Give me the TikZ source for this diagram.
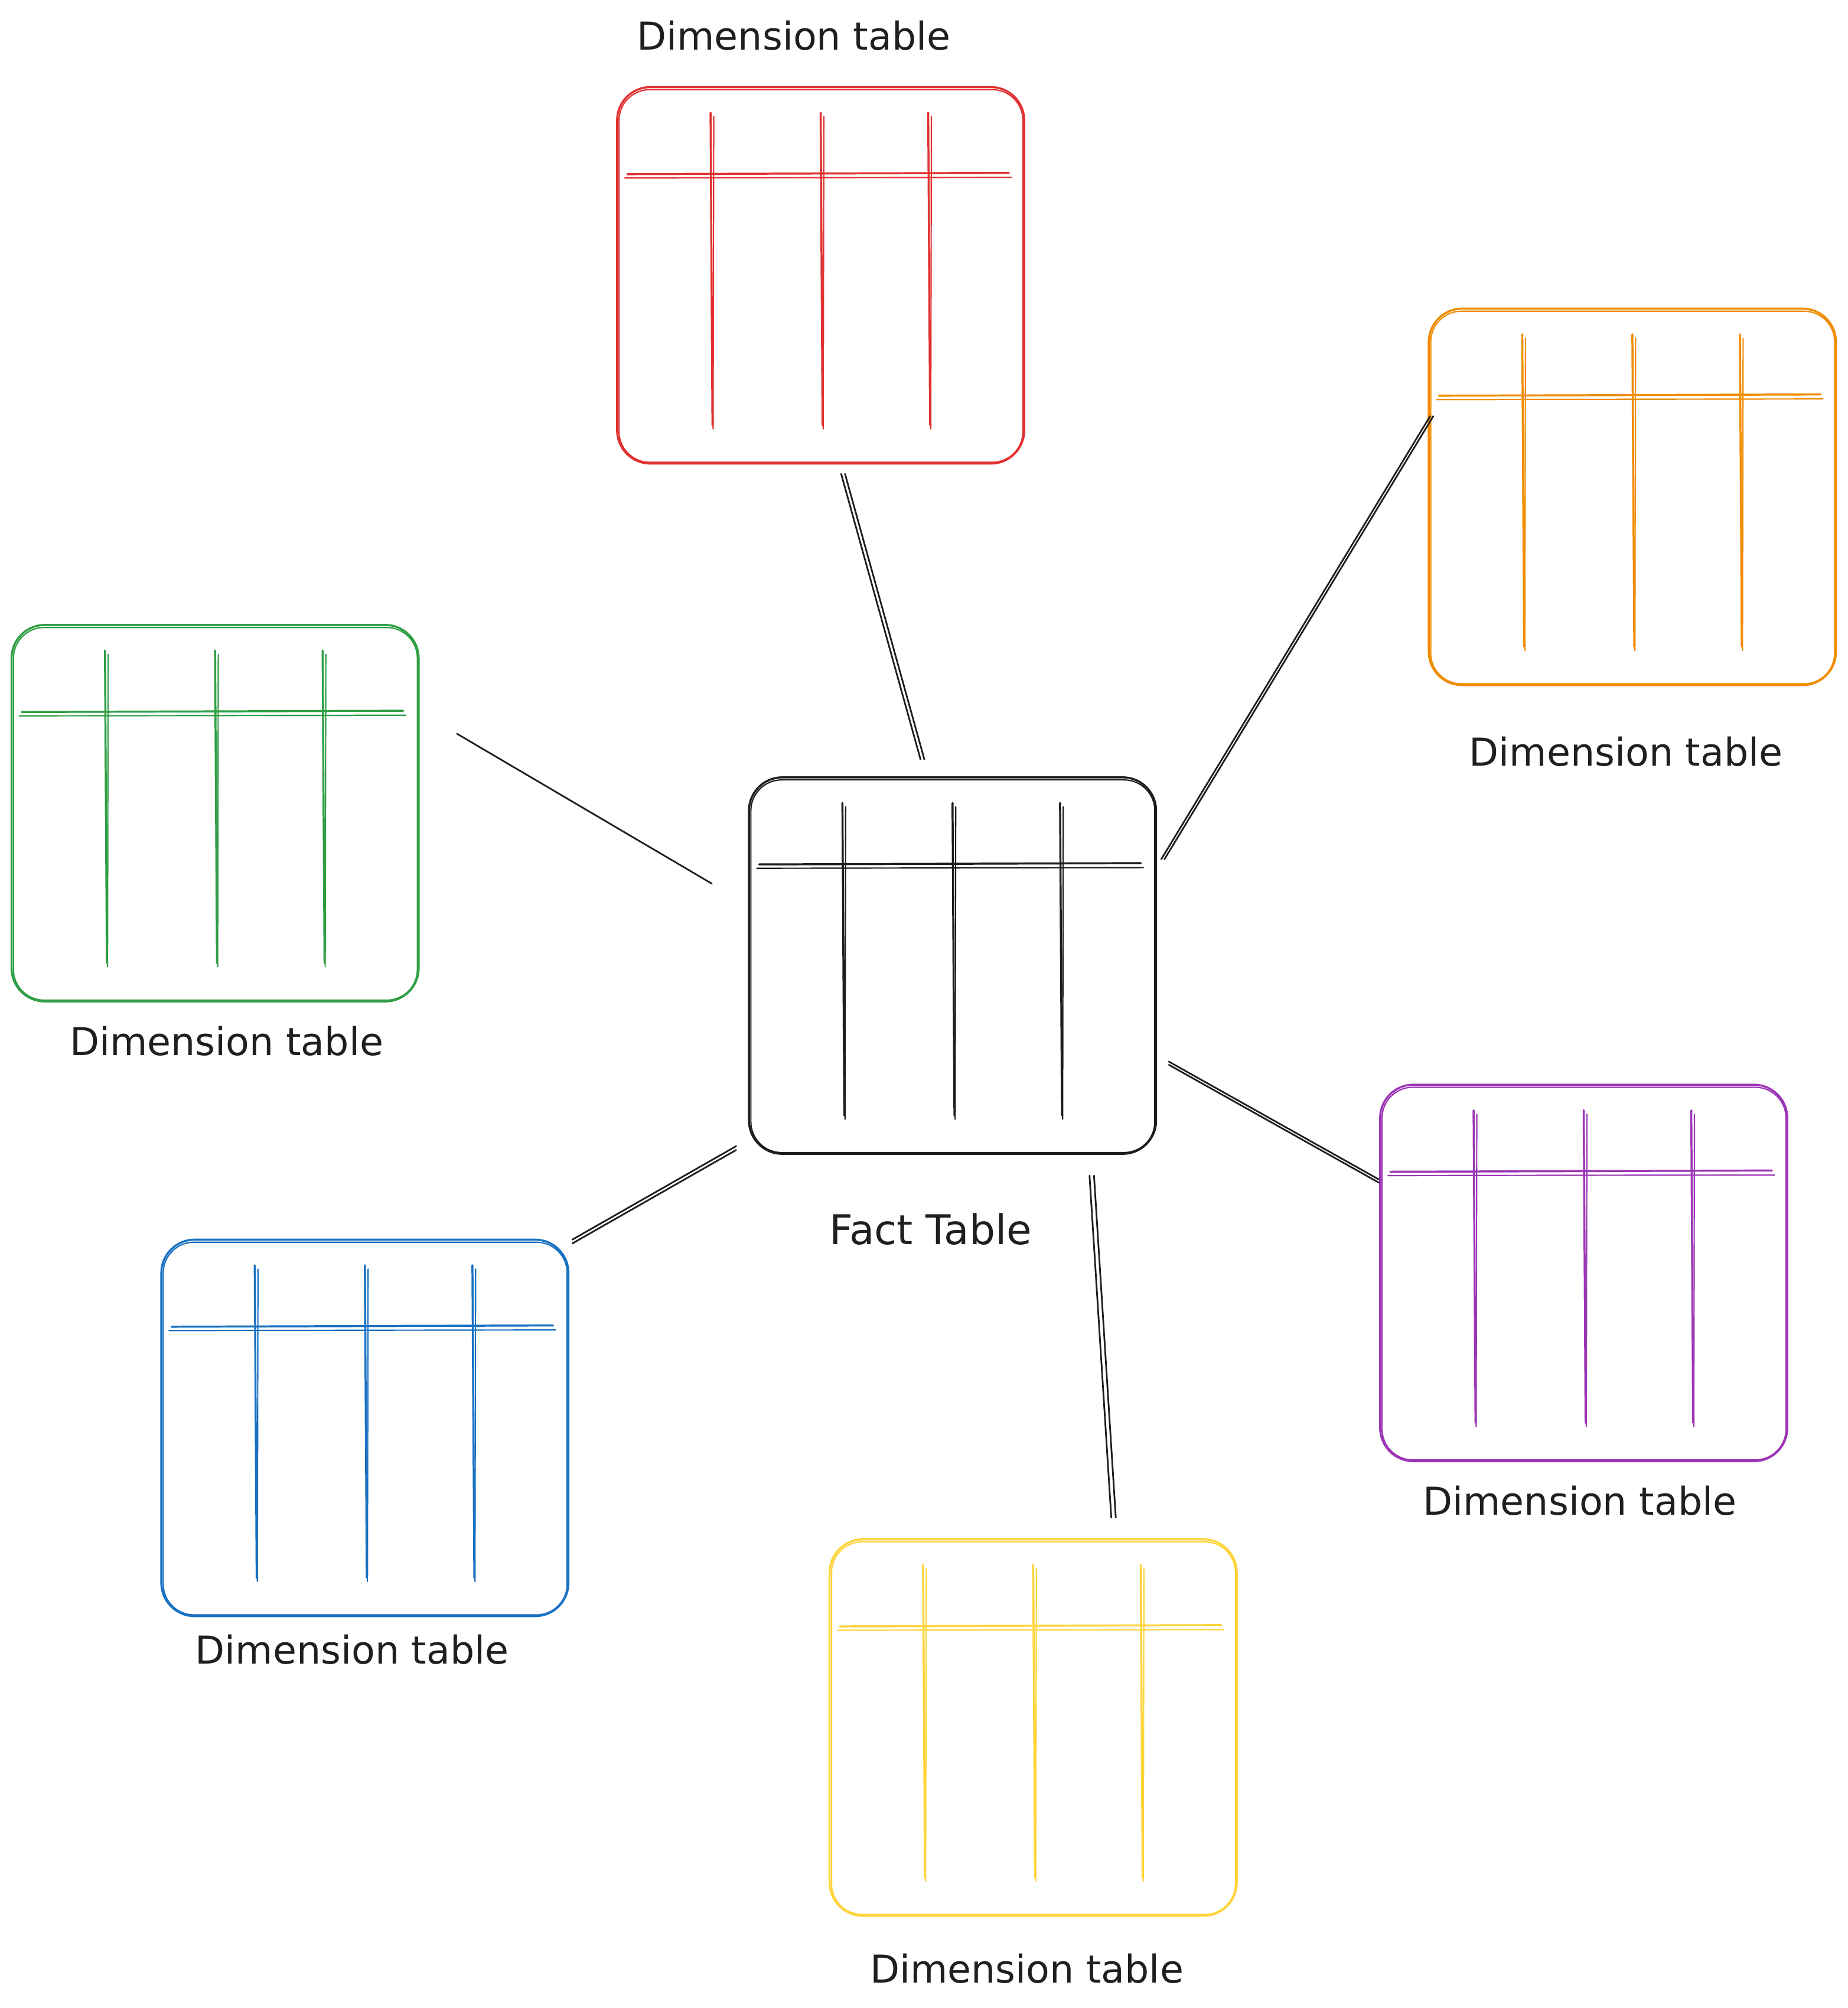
\documentclass[tikz,border=0pt]{standalone}
\usepackage{fontspec}
\setmainfont{DejaVu Sans}
\begin{document}
\begin{tikzpicture}[x=1pt,y=-1pt,
  ink/.style={line width=1.6pt, line cap=round, line join=round},
  thin/.style={line width=1.0pt, line cap=round},
  tbox/.style={ink, rounded corners=26pt, minimum width=318pt, minimum height=294pt, inner sep=0pt},
  lbl/.style={text=black!88, font=\fontsize{30}{36}\selectfont, inner sep=0pt},
  conn/.style={line width=1.3pt, black!88, line cap=round}]
\definecolor{cred}{HTML}{E03131}
\definecolor{corange}{HTML}{F08C00}
\definecolor{cgreen}{HTML}{2F9E44}
\definecolor{cpurple}{HTML}{9C36B5}
\definecolor{cblue}{HTML}{1971C2}
\definecolor{cyellow}{HTML}{FFD43B}
\definecolor{cblack}{HTML}{1E1E1E}
\fill[white] (0,0) rectangle (1443,1568);
\useasboundingbox (0,0) rectangle (1443,1568);
\newcommand\dimtab[4]{% name, colour, left, top
  \node[tbox, draw=#2] (#1) at ({#3+159},{#4+147}) {};
  \draw[thin, #2, rounded corners=24pt] ({#3+1.5},{#4+2}) rectangle ({#3+317},{#4+293});
  \draw[ink, #2] ({#3+8},{#4+68}) -- ({#3+306},{#4+67});
  \draw[thin, #2] ({#3+6},{#4+71}) -- ({#3+308},{#4+70.5});
  \foreach \cx in {73,159,243}{
    \draw[ink, #2] ({#3+\cx},{#4+20}) -- ({#3+\cx+1.5},{#4+264});
    \draw[thin, #2] ({#3+\cx+2.5},{#4+23}) -- ({#3+\cx+2},{#4+267});
  }
}
% fact table
\dimtab{fact}{cblack}{585}{607}
\node[lbl, font=\fontsize{32}{38}\selectfont] (factlbl) at (727,960) {Fact Table};
% dimension tables
\dimtab{red}{cred}{482}{68}
\node[lbl] (redlbl) at (620,28) {Dimension table};
\dimtab{orange}{corange}{1116}{241}
\node[lbl] (orangelbl) at (1270,587) {Dimension table};
\dimtab{green}{cgreen}{9}{488}
\node[lbl] (greenlbl) at (177,813) {Dimension table};
\dimtab{purple}{cpurple}{1078}{847}
\node[lbl] (purplelbl) at (1234,1172) {Dimension table};
\dimtab{blue}{cblue}{126}{968}
\node[lbl] (bluelbl) at (275,1288) {Dimension table};
\dimtab{yellow}{cyellow}{648}{1202}
\node[lbl] (yellowlbl) at (802,1537) {Dimension table};
% connector end points
\coordinate (r1) at (657,370); \coordinate (r2) at (719,593);
\coordinate (o1) at (1117,325); \coordinate (o2) at (907,671);
\coordinate (g1) at (357,573); \coordinate (g2) at (556,690);
\coordinate (p1) at (913,829); \coordinate (p2) at (1077,921);
\coordinate (b1) at (575,895); \coordinate (b2) at (447,968);
\coordinate (y1) at (851,918); \coordinate (y2) at (868,1185);
\draw[conn] (r1) -- (r2);
\draw[conn] ([xshift=3pt]r1) -- ([xshift=3pt]r2);
\draw[conn] (o1) -- (o2);
\draw[conn] ([xshift=2.5pt]o1) -- ([xshift=2.5pt]o2);
\draw[conn] (g1) -- (g2);
\draw[conn] (p1) -- (p2);
\draw[conn] ([yshift=-2.5pt]p1) -- ([yshift=-2.5pt]p2);
\draw[conn] (b1) -- (b2);
\draw[conn] ([yshift=-3pt]b1) -- ([yshift=-3pt]b2);
\draw[conn] (y1) -- (y2);
\draw[conn] ([xshift=3.5pt]y1) -- ([xshift=3.5pt]y2);
\end{tikzpicture}
\end{document}
